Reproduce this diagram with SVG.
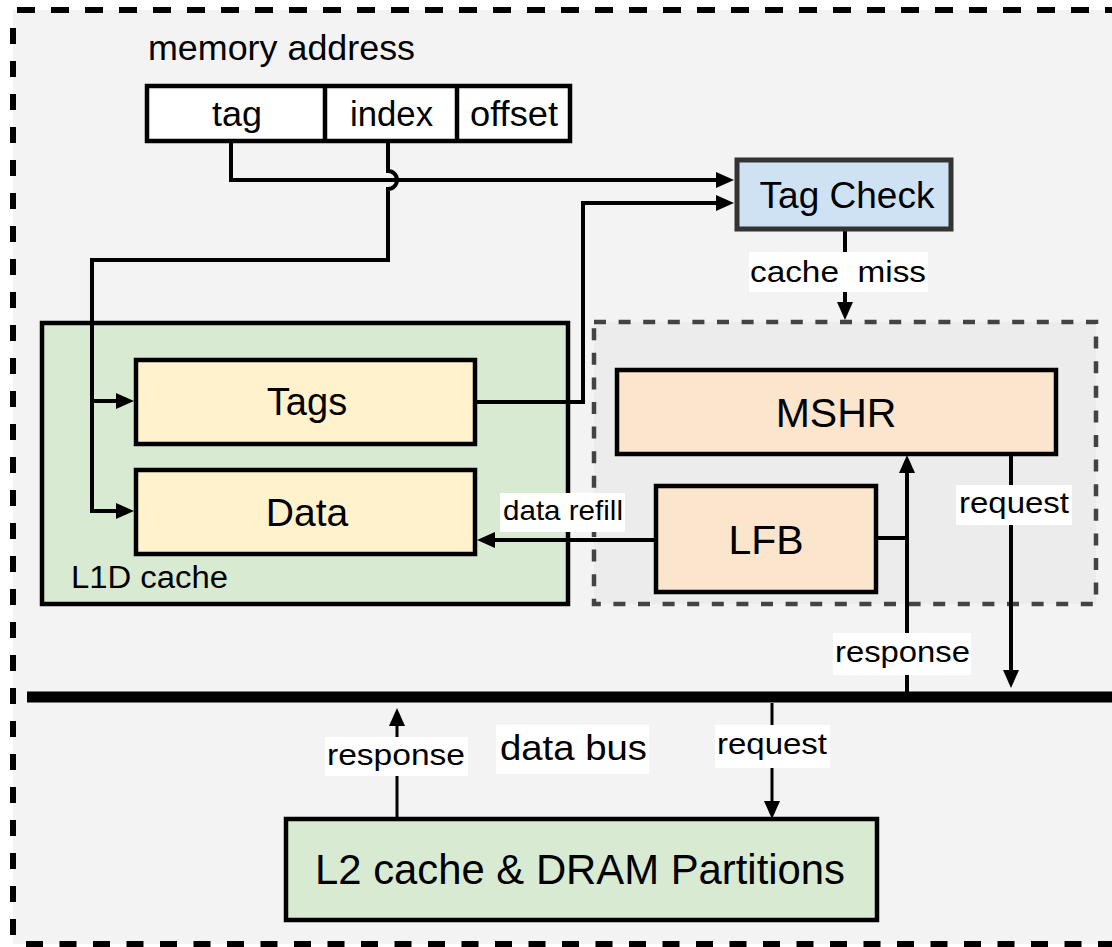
<svg xmlns="http://www.w3.org/2000/svg" width="1112" height="947" viewBox="0 0 1112 947">
<defs>
<style>
text{font-family:"Liberation Sans",Arial,sans-serif;fill:#000}
.box{stroke:#000;stroke-width:4.5}
.conn{fill:none;stroke:#000;stroke-width:4}
.thin{fill:none;stroke:#000;stroke-width:3}
.lbl{fill:#fff}
.c{text-anchor:middle}
</style>
<marker id="ah" markerUnits="userSpaceOnUse" markerWidth="18" markerHeight="16" refX="12" refY="8" orient="auto">
<path d="M0,0 L18,8 L0,16 Z" fill="#000"/>
</marker>
</defs>
<rect width="1112" height="947" fill="#fff"/>
<g id="frame">
<rect x="13" y="10" width="1110" height="934" fill="#f3f3f3"/>
<path d="M13,10 H1112" stroke="#000" stroke-width="6" stroke-dasharray="18 16" stroke-dashoffset="-4" fill="none"/>
<path d="M13,28 V944" stroke="#000" stroke-width="6" stroke-dasharray="16 17" fill="none"/>
<path d="M10,944 H1112" stroke="#000" stroke-width="6" stroke-dasharray="17 16.5" stroke-dashoffset="-16" fill="none"/>
</g>
<g id="l1d-cache">
<rect x="42" y="323" width="526" height="281" fill="#d9ead3" class="box"/>
<text x="71" y="588" font-size="31" textLength="157" lengthAdjust="spacingAndGlyphs">L1D cache</text>
</g>
<g id="miss-handling">
<rect x="594" y="322" width="502" height="282" fill="#ececec" stroke="#434343" stroke-width="4.5" stroke-dasharray="12 12.6"/>
</g>
<g id="data-bus">
<path d="M27,697 H1112" stroke="#000" stroke-width="11"/>
</g>
<g id="connectors">
<path class="conn" d="M231,142 V180 H728" marker-end="url(#ah)"/>
<path class="conn" d="M388,142 V171 A9,9 0 0 1 388,189 V260 H92 V511 H128" marker-end="url(#ah)"/>
<path class="conn" d="M92,401 H128" marker-end="url(#ah)"/>
<path class="conn" d="M475,402 H583 V203 H728" marker-end="url(#ah)"/>
<path class="conn" d="M845,229 V314" marker-end="url(#ah)"/>
<path class="conn" d="M657,540 H483" marker-end="url(#ah)"/>
<path class="conn" d="M876,538 H907"/>
<path class="conn" d="M907,692 V461" marker-end="url(#ah)"/>
<path class="conn" d="M1011,454 V682" marker-end="url(#ah)"/>
<path class="thin" d="M397,819 V714" marker-end="url(#ah)"/>
<path class="thin" d="M772,703 V813" marker-end="url(#ah)"/>
<rect class="lbl" x="749" y="252" width="179" height="40"/>
<text x="838" y="282" font-size="30" class="c" xml:space="preserve" textLength="176" lengthAdjust="spacingAndGlyphs">cache  miss</text>
<rect class="lbl" x="500" y="493" width="125" height="39"/>
<text x="503" y="520" font-size="28" textLength="120" lengthAdjust="spacingAndGlyphs">data refill</text>
<rect class="lbl" x="956" y="485" width="116" height="40"/>
<text x="959" y="513" font-size="30" textLength="110" lengthAdjust="spacingAndGlyphs">request</text>
<rect class="lbl" x="833" y="633" width="138" height="42"/>
<text x="835" y="662" font-size="30" textLength="135" lengthAdjust="spacingAndGlyphs">response</text>
<rect class="lbl" x="325" y="737" width="143" height="39"/>
<text x="327" y="765" font-size="30" textLength="138" lengthAdjust="spacingAndGlyphs">response</text>
<rect class="lbl" x="715" y="725" width="115" height="43"/>
<text x="717" y="754" font-size="30" textLength="110" lengthAdjust="spacingAndGlyphs">request</text>
<rect class="lbl" x="496" y="725" width="153" height="49"/>
<text x="500" y="760" font-size="35" textLength="147" lengthAdjust="spacingAndGlyphs">data bus</text>
</g>
<g id="memory-address">
<text x="148" y="60" font-size="35" textLength="267" lengthAdjust="spacingAndGlyphs">memory address</text>
<rect x="147" y="86" width="423" height="55" fill="#fff" class="box"/>
<path d="M325,86 V141 M457,86 V141" stroke="#000" stroke-width="4.5"/>
<text x="237" y="126" font-size="35" class="c" textLength="50" lengthAdjust="spacingAndGlyphs">tag</text>
<text x="391.5" y="126" font-size="35" class="c" textLength="83" lengthAdjust="spacingAndGlyphs">index</text>
<text x="514" y="126" font-size="35" class="c" textLength="88" lengthAdjust="spacingAndGlyphs">offset</text>
</g>
<g id="tag-check">
<rect x="737" y="160" width="214" height="69" fill="#cfe2f3" stroke="#333" stroke-width="5"/>
<text x="847" y="208" font-size="37" class="c">Tag Check</text>
</g>
<g id="tags">
<rect x="136" y="360" width="339" height="84" fill="#fff2cc" class="box"/>
<text x="307" y="415" font-size="38" class="c">Tags</text>
</g>
<g id="data">
<rect x="136" y="470" width="339" height="84" fill="#fff2cc" class="box"/>
<text x="307" y="526" font-size="39" class="c">Data</text>
</g>
<g id="mshr">
<rect x="617" y="370" width="439" height="84" fill="#fce5cd" class="box"/>
<text x="836" y="427" font-size="41" class="c">MSHR</text>
</g>
<g id="lfb">
<rect x="656" y="486" width="220" height="106" fill="#fce5cd" class="box"/>
<text x="766" y="554" font-size="41" class="c">LFB</text>
</g>
<g id="l2-dram">
<rect x="286" y="819" width="591" height="101" fill="#d9ead3" class="box"/>
<text x="580" y="884" font-size="42" class="c" textLength="530" lengthAdjust="spacingAndGlyphs">L2 cache &amp; DRAM Partitions</text>
</g>
</svg>
